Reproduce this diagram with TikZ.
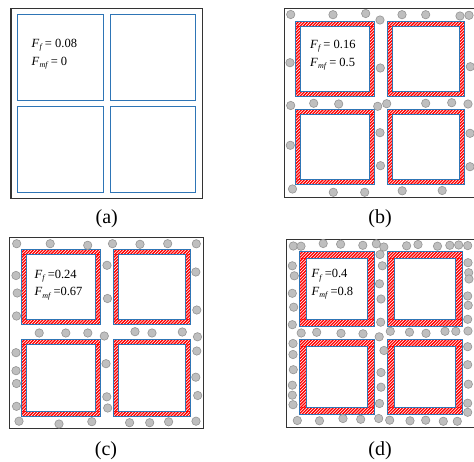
\documentclass[tikz,border=0pt]{standalone}
\usepackage{fontspec}
\setmainfont{Liberation Serif}
\definecolor{fiberblue}{RGB}{46,117,182}
\tikzset{
  frame/.style={draw=black!80,line width=1.3pt},
  fiber/.style={draw=fiberblue,line width=1pt},
  plainfiber/.style={draw=fiberblue,line width=1.4pt},
  stripe/.style={draw=red,line width=1.3pt},
  grain/.style={fill=black!25,draw=black!42,line width=0.6pt},
  lab/.style={anchor=west,inner sep=0pt,font=\fontsize{12.5}{14}\selectfont},
  caption/.style={inner sep=0pt,font=\fontsize{20}{22}\selectfont}
}
% stripes inside one rectangle x1 y1 x2 y2
\newcommand\stripes[4]{%
  \begin{scope}
    \clip (#1,#2) rectangle (#3,#4);
    \pgfmathsetmacro\sw{#3-#1}\pgfmathsetmacro\sh{#4-#2}%
    \pgfmathtruncatemacro\sn{(\sw+\sh)/3.1+3}%
    \foreach \i in {0,...,\sn}{
      \pgfmathsetmacro\sk{#1+3.1*\i}
      \draw[stripe] ({\sk-\sh-3},{#4+3}) -- ({\sk+3},{#2-3});
    }
  \end{scope}
}
\newcommand\fiberbox[5]{%
  \pgfmathsetmacro\fax{#1+#5}\pgfmathsetmacro\fay{#2+#5}%
  \pgfmathsetmacro\fbx{#3-#5}\pgfmathsetmacro\fby{#4-#5}%
  \stripes{#1}{#2}{#3}{\fay}
  \stripes{#1}{\fby}{#3}{#4}
  \stripes{#1}{\fay}{\fax}{\fby}
  \stripes{\fbx}{\fay}{#3}{\fby}
  \draw[fiber] (#1,#2) rectangle (#3,#4);
  \draw[fiber] (\fax,\fay) rectangle (\fbx,\fby);
}
\newcommand\fsub[1]{\textit{F}\kern0.2pt\raisebox{-0.4ex}{\fontsize{8}{9}\selectfont\itshape #1}}
\begin{document}
\begin{tikzpicture}[x=1pt,y=-1pt]
\useasboundingbox (0,0) rectangle (474,462);
\fill[white] (0,0) rectangle (474,462);
% ---------- (a)
\draw[frame] (11,8.3) rectangle (202.3,198.3);
\draw[plainfiber] (17.5,14.5) rectangle (103.5,100.5);
\draw[plainfiber] (110.5,14.5) rectangle (195.5,100.5);
\draw[plainfiber] (17.5,106.5) rectangle (103.5,192.5);
\draw[plainfiber] (110.5,106.5) rectangle (195.5,192.5);
\node[lab] (a1) at (31.5,45) {\fsub{f} = 0.08};
\node[lab] (a2) at (31.5,63.3) {\fsub{mf} = 0};
\node[caption] (ca) at (106.7,218.7) {(a)};
% ---------- (b)
\draw[frame] (284.3,8.3) rectangle (476,197.7);
\fiberbox{295.5}{21.5}{374.5}{96.5}{5}
\fiberbox{387.5}{21.5}{464.5}{96.5}{5}
\fiberbox{295.5}{109.5}{374.5}{184.5}{5}
\fiberbox{387.5}{109.5}{464.5}{184.5}{5}
\foreach \x/\y in {290.7/14.5,333/14.7,365.7/13.5,380/20,402/14.7,425.7/14.7,460/16,469/15.3,
  290/62.7,380.3/68,470.3/66.7,
  290.7/105.5,313.7/103.3,338.7/104,377.7/106.3,386.7/103.7,425.7/103.3,451.7/102.7,468/104,
  380/132.7,470/133.3,290.3/145.3,380.5/165.7,470/166.7,
  292.5/189,333.3/192.3,364.7/192.3,402.2/190.8,442.2/190.5}
  \filldraw[grain] (\x,\y) circle[radius=4.2];
\node[lab] (b1) at (310,46.3) {\fsub{f} = 0.16};
\node[lab] (b2) at (310,64) {\fsub{mf} = 0.5};
\node[caption] (cb) at (380,218.7) {(b)};
% ---------- (c)
\draw[frame] (9.7,237.3) rectangle (203.5,428.7);
\fiberbox{21.5}{249.5}{100.5}{324.5}{5}
\fiberbox{113.5}{249.5}{190.5}{324.5}{5}
\fiberbox{21.5}{339.5}{100.5}{416.5}{5}
\fiberbox{113.5}{339.5}{190.5}{416.5}{5}
\foreach \x/\y in {16.7/243.7,50.2/243.7,87.7/245.3,112.5/243.7,140/244.3,167.7/243.7,196.3/243.8,
  107/265.3,195.8/272,16/275.5,17.2/293,107.5/298.5,16.5/316,196.8/310,
  39.2/333,65.8/333,87.8/333,104.3/336,135/331.7,152/333,182.3/332,197.5/336.8,
  16/352.7,196.8/351,106/363.7,16/370.7,16.5/383.5,195.8/377.2,197.7/395.5,106.8/396.8,107.7/408,16.5/406.3,
  19/421.2,59/424,91.8/421.7,129.6/422.7,149.7/422.7,168.6/421.8,196/421.2}
  \filldraw[grain] (\x,\y) circle[radius=4.2];
\node[lab] (c1) at (34.3,276.3) {\fsub{f} =0.24};
\node[lab] (c2) at (34.3,293.7) {\fsub{mf} =0.67};
\node[caption] (cc) at (106,450.7) {(c)};
% ---------- (d)
\draw[frame] (286.7,239.3) rectangle (476,427.7);
\fiberbox{299.5}{251.5}{374.5}{326.5}{7}
\fiberbox{387.5}{251.5}{462.5}{326.5}{7}
\fiberbox{299.5}{339.5}{374.5}{414.5}{7}
\fiberbox{387.5}{339.5}{462.5}{414.5}{7}
\foreach \x/\y in {293.3/246,301/246.2,323.2/243.5,340.6/244.2,362.8/245.3,376.3/243.8,383.8/247,406.6/245.8,418/244.5,437.5/246.2,449.8/245.3,458.7/245,467.7/245.6,
  380/254.5,292.3/265.8,294.3/275.8,382.3/265.8,468/262.7,468.7/272.7,469/279,379.5/283.8,292.3/293.3,381/299,467.7/296,293.7/307.2,468.2/305.3,380.7/322.2,292.3/324.7,467.7/319.3,
  301.2/333,316.7/332.3,341/333.3,363/333.8,379.2/336.8,390.3/331.3,409.5/332.2,426/333.3,445/331.3,455.8/331.3,468/331,
  293/343.5,293/354.5,293.3/369.7,292.3/385.2,292.3/395.2,293/404.7,
  384/350.5,381/372.5,381/387.2,379.5/403.5,
  467.7/346.7,467.7/364.7,468.3/384.2,467.7/403.2,467.7/412.3,
  297.3/420.5,319.5/420.8,343/418.5,360.7/419.3,378.7/418.5,389.7/420.2,410/420.8,425.7/420.2,443.3/421.3,457.3/421.3}
  \filldraw[grain] (\x,\y) circle[radius=4.2];
\node[lab] (d1) at (311.3,275.7) {\fsub{f} =0.4};
\node[lab] (d2) at (311.3,293) {\fsub{mf} =0.8};
\node[caption] (cd) at (380,450.7) {(d)};
\end{tikzpicture}
\end{document}
